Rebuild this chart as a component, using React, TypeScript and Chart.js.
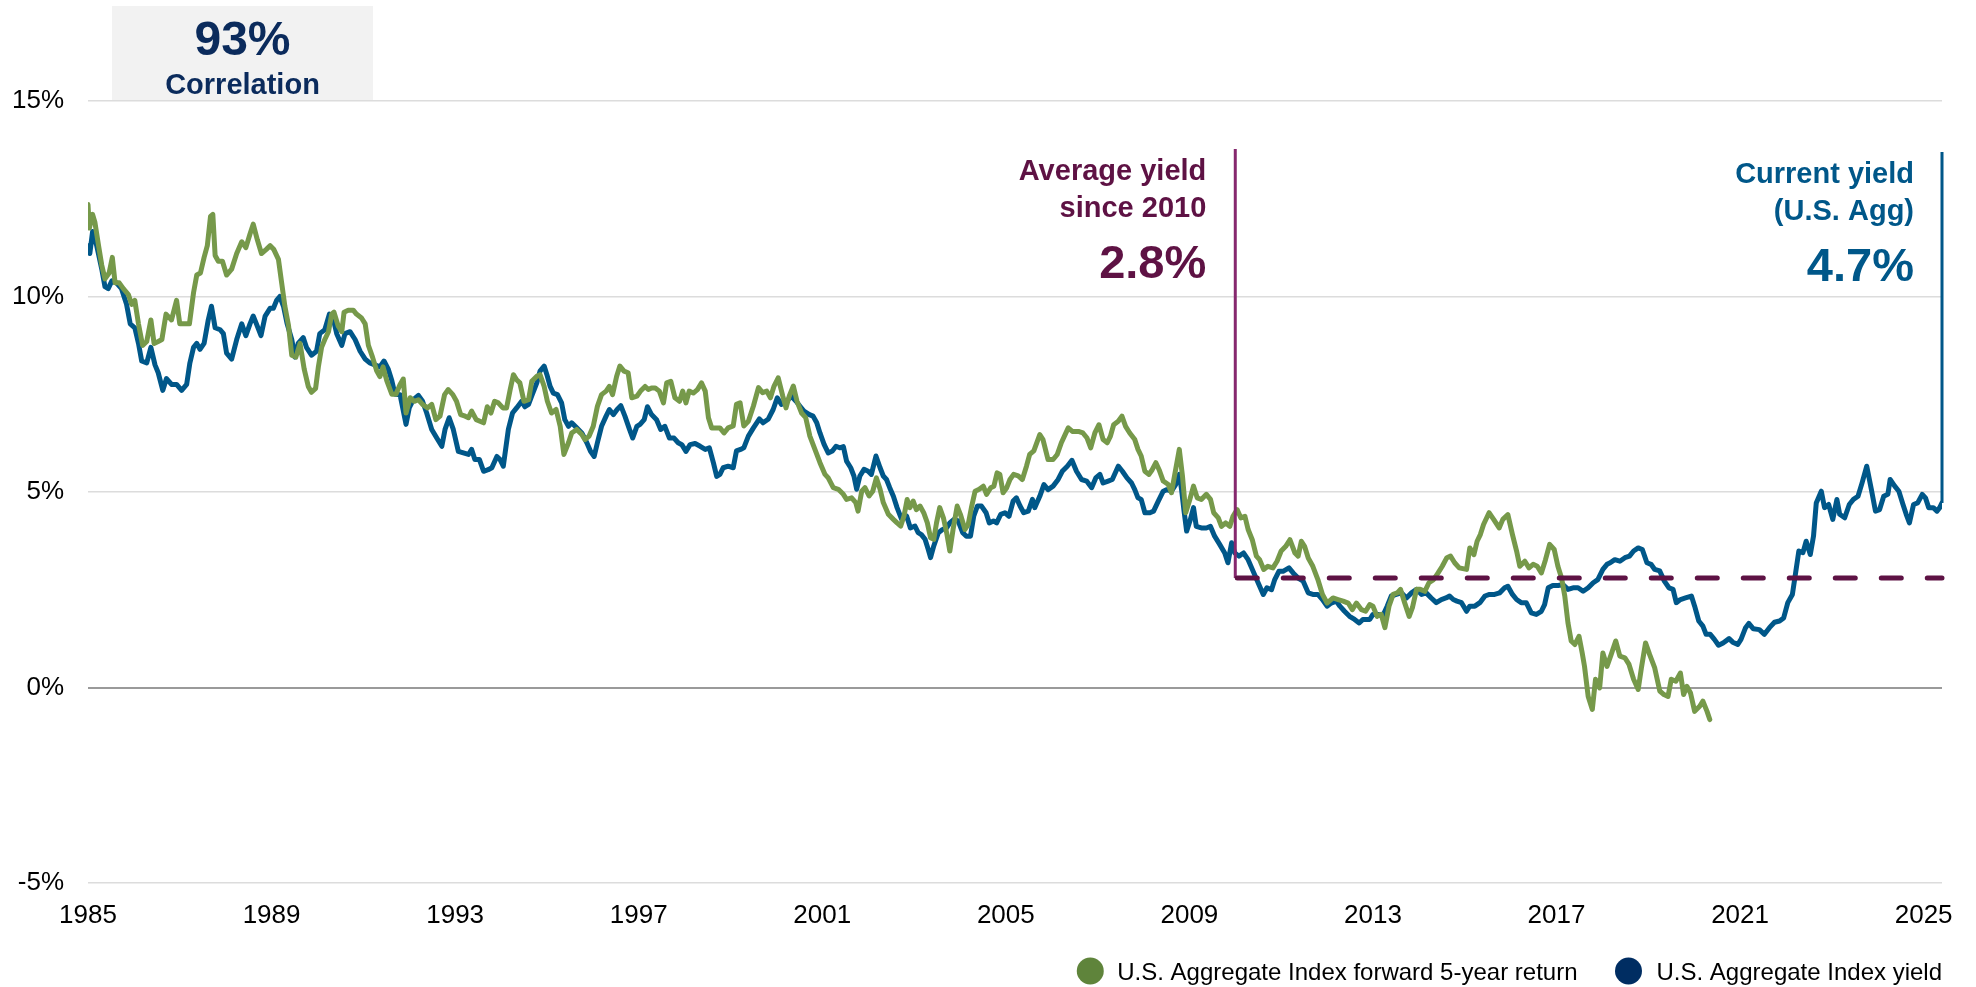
import React, { useEffect, useRef } from "react";
import { Chart, registerables } from "chart.js";

Chart.register(...registerables);

const FONT = '"Liberation Sans", Arial, Helvetica, sans-serif';

// ---- axis ticks ----
const xTickYears = [1985, 1989, 1993, 1997, 2001, 2005, 2009, 2013, 2017, 2021, 2025];
const yTickValues = [-5, 0, 5, 10, 15];

// ---- series names ----
const seriesNames = ["U.S. Aggregate Index forward 5-year return", "U.S. Aggregate Index yield"];

// ---- annotation values ----
const correlationValue = "93%";
const correlationCaption = "Correlation";
const averageYieldStartYear = 2010;
const averageYieldSince2010 = 2.8;
const averageYieldLabel = ["Average yield", "since 2010", "2.8%"];
const currentYieldLabel = ["Current yield", "(U.S. Agg)", "4.7%"];

// ---- U.S. Aggregate Index yield, % : [year, value] ----
const yieldSeries: [number, number][] = [
  [1985.00, 11.3], [1985.04, 11.1], [1985.10, 11.66], [1985.19, 11.3], [1985.30, 10.7], [1985.37, 10.25],
  [1985.44, 10.2], [1985.52, 10.4], [1985.62, 10.35], [1985.73, 10.2], [1985.84, 9.8], [1985.92, 9.3],
  [1986.02, 9.2], [1986.10, 8.8], [1986.17, 8.35], [1986.28, 8.3], [1986.37, 8.7], [1986.46, 8.25],
  [1986.53, 8.05], [1986.63, 7.6], [1986.71, 7.9], [1986.82, 7.75], [1986.93, 7.75], [1987.04, 7.6],
  [1987.15, 7.75], [1987.22, 8.3], [1987.30, 8.7], [1987.37, 8.8], [1987.44, 8.65], [1987.53, 8.8],
  [1987.62, 9.4], [1987.69, 9.75], [1987.77, 9.2], [1987.88, 9.15], [1987.95, 9.05], [1988.02, 8.55],
  [1988.13, 8.4], [1988.24, 8.9], [1988.35, 9.3], [1988.44, 9.0], [1988.53, 9.3], [1988.60, 9.5],
  [1988.67, 9.3], [1988.77, 9.0], [1988.86, 9.5], [1988.97, 9.7], [1989.04, 9.7], [1989.11, 9.9],
  [1989.18, 10.0], [1989.26, 9.75], [1989.34, 9.3], [1989.44, 8.9], [1989.51, 8.45], [1989.58, 8.8],
  [1989.69, 8.95], [1989.76, 8.7], [1989.87, 8.5], [1989.98, 8.6], [1990.05, 9.05], [1990.16, 9.15],
  [1990.26, 9.55], [1990.33, 9.5], [1990.42, 9.05], [1990.53, 8.75], [1990.60, 9.05], [1990.71, 9.1],
  [1990.82, 8.9], [1990.93, 8.6], [1991.04, 8.4], [1991.14, 8.3], [1991.25, 8.25], [1991.36, 8.2],
  [1991.45, 8.35], [1991.54, 8.15], [1991.62, 7.85], [1991.69, 7.5],
  [1991.80, 7.49], [1991.93, 6.73], [1992.00, 7.15], [1992.09, 7.36], [1992.20, 7.47], [1992.29, 7.32],
  [1992.38, 7.02], [1992.49, 6.6], [1992.60, 6.38], [1992.71, 6.17], [1992.78, 6.6], [1992.87, 6.9],
  [1992.96, 6.6], [1993.07, 6.04], [1993.18, 6.0], [1993.29, 5.96], [1993.36, 6.09], [1993.43, 5.83],
  [1993.53, 5.83], [1993.62, 5.53], [1993.72, 5.57], [1993.80, 5.62], [1993.91, 5.91], [1993.98, 5.83],
  [1994.05, 5.66], [1994.16, 6.6], [1994.25, 7.02], [1994.34, 7.15], [1994.45, 7.32], [1994.52, 7.18],
  [1994.60, 7.24], [1994.68, 7.49], [1994.78, 7.79], [1994.85, 8.09], [1994.94, 8.22], [1995.00, 8.0],
  [1995.07, 7.7], [1995.14, 7.53], [1995.23, 7.49], [1995.32, 7.28], [1995.39, 6.85], [1995.47, 6.68],
  [1995.54, 6.77], [1995.65, 6.64], [1995.76, 6.51], [1995.87, 6.26], [1995.95, 6.04], [1996.03, 5.91],
  [1996.10, 6.26], [1996.19, 6.68], [1996.29, 6.94], [1996.36, 7.11], [1996.45, 6.98], [1996.53, 7.11],
  [1996.61, 7.21], [1996.70, 6.94], [1996.80, 6.6], [1996.87, 6.38], [1996.96, 6.68], [1997.03, 6.73],
  [1997.12, 6.85], [1997.19, 7.18], [1997.28, 6.98], [1997.39, 6.85], [1997.48, 6.6], [1997.57, 6.68],
  [1997.67, 6.38], [1997.77, 6.38], [1997.86, 6.26], [1997.94, 6.21], [1998.03, 6.04], [1998.12, 6.21],
  [1998.23, 6.24], [1998.34, 6.17], [1998.45, 6.09], [1998.54, 6.13], [1998.63, 5.74], [1998.70, 5.4],
  [1998.77, 5.45], [1998.84, 5.62], [1998.95, 5.66], [1999.06, 5.62], [1999.13, 6.05], [1999.22, 6.09],
  [1999.29, 6.13], [1999.39, 6.43], [1999.50, 6.64], [1999.63, 6.87], [1999.71, 6.77], [1999.82, 6.86],
  [1999.93, 7.11], [2000.02, 7.41], [2000.11, 7.24], [2000.22, 7.32], [2000.33, 7.45], [2000.43, 7.32],
  [2000.51, 7.2], [2000.60, 7.07], [2000.72, 6.98], [2000.80, 6.94], [2000.88, 6.77], [2000.95, 6.51],
  [2001.04, 6.22], [2001.13, 6.0], [2001.22, 6.05], [2001.30, 6.17], [2001.38, 6.13], [2001.46, 6.16],
  [2001.53, 5.79], [2001.62, 5.62], [2001.69, 5.41], [2001.75, 5.07], [2001.82, 5.41], [2001.91, 5.58],
  [2002.00, 5.53], [2002.07, 5.45], [2002.17, 5.92], [2002.26, 5.62], [2002.33, 5.41], [2002.40, 5.32],
  [2002.47, 5.11], [2002.55, 4.89], [2002.63, 4.6], [2002.73, 4.3], [2002.84, 4.38], [2002.92, 4.08],
  [2003.02, 4.13], [2003.09, 3.96], [2003.16, 3.91], [2003.24, 3.79], [2003.31, 3.53], [2003.36, 3.32],
  [2003.43, 3.62], [2003.53, 3.96], [2003.62, 4.04], [2003.71, 4.08], [2003.78, 4.21], [2003.87, 4.3],
  [2003.96, 4.26], [2004.06, 3.96], [2004.14, 3.87], [2004.23, 3.87], [2004.30, 4.38], [2004.38, 4.64],
  [2004.47, 4.64], [2004.57, 4.47], [2004.64, 4.21], [2004.73, 4.26], [2004.80, 4.21], [2004.89, 4.43],
  [2004.98, 4.47], [2005.07, 4.38], [2005.16, 4.77], [2005.23, 4.85], [2005.31, 4.64], [2005.39, 4.47],
  [2005.49, 4.51], [2005.58, 4.81], [2005.63, 4.6],
  [2005.74, 4.89], [2005.83, 5.19], [2005.92, 5.06], [2006.03, 5.15], [2006.14, 5.32], [2006.23, 5.53],
  [2006.34, 5.66], [2006.44, 5.81], [2006.54, 5.53], [2006.65, 5.32], [2006.76, 5.28], [2006.87, 5.11],
  [2006.96, 5.36], [2007.05, 5.45], [2007.12, 5.23], [2007.23, 5.28], [2007.32, 5.32], [2007.45, 5.66],
  [2007.54, 5.53], [2007.64, 5.36], [2007.74, 5.23], [2007.81, 5.06], [2007.88, 4.85], [2007.95, 4.81],
  [2008.03, 4.47], [2008.14, 4.47], [2008.22, 4.51], [2008.32, 4.76], [2008.43, 5.02], [2008.51, 5.06],
  [2008.61, 5.02], [2008.70, 5.19], [2008.78, 5.45], [2008.83, 5.06], [2008.88, 4.55], [2008.94, 4.0],
  [2009.01, 4.25], [2009.09, 4.6], [2009.15, 4.12], [2009.26, 4.08], [2009.37, 4.08], [2009.46, 4.12],
  [2009.55, 3.87], [2009.66, 3.66], [2009.77, 3.44], [2009.84, 3.19], [2009.92, 3.7], [2009.99, 3.44],
  [2010.08, 3.36], [2010.18, 3.44], [2010.28, 3.27], [2010.39, 2.97], [2010.50, 2.67], [2010.61, 2.38],
  [2010.69, 2.55], [2010.79, 2.5], [2010.86, 2.76], [2010.95, 2.97], [2011.04, 2.97], [2011.17, 3.06],
  [2011.26, 2.93], [2011.37, 2.8], [2011.48, 2.72], [2011.59, 2.42], [2011.69, 2.38], [2011.80, 2.38],
  [2011.90, 2.25], [2012.00, 2.08], [2012.09, 2.16], [2012.20, 2.21], [2012.28, 2.08], [2012.38, 1.95],
  [2012.49, 1.82], [2012.60, 1.74], [2012.70, 1.65], [2012.78, 1.74], [2012.89, 1.74],
  [2012.93, 1.74], [2013.00, 1.87], [2013.11, 1.87], [2013.21, 1.82], [2013.31, 2.08], [2013.40, 2.34],
  [2013.51, 2.38], [2013.62, 2.42], [2013.73, 2.29], [2013.84, 2.42], [2013.95, 2.51], [2014.06, 2.38],
  [2014.16, 2.42], [2014.27, 2.29], [2014.38, 2.17], [2014.49, 2.25], [2014.59, 2.29], [2014.67, 2.34],
  [2014.75, 2.25], [2014.83, 2.21], [2014.93, 2.17], [2015.04, 1.95], [2015.11, 2.08], [2015.22, 2.08],
  [2015.33, 2.17], [2015.44, 2.34], [2015.54, 2.38], [2015.65, 2.38], [2015.76, 2.42], [2015.87, 2.55],
  [2015.94, 2.59], [2016.04, 2.38], [2016.13, 2.25], [2016.23, 2.17], [2016.34, 2.17], [2016.45, 1.91],
  [2016.56, 1.87], [2016.67, 1.95], [2016.74, 2.12], [2016.82, 2.55], [2016.92, 2.61], [2017.03, 2.61],
  [2017.14, 2.63], [2017.25, 2.51], [2017.36, 2.55], [2017.47, 2.55], [2017.58, 2.46], [2017.69, 2.55],
  [2017.80, 2.68], [2017.90, 2.76], [2018.01, 3.02], [2018.10, 3.15], [2018.17, 3.19], [2018.27, 3.27],
  [2018.38, 3.23], [2018.49, 3.32], [2018.59, 3.36], [2018.68, 3.49], [2018.78, 3.57], [2018.87, 3.53],
  [2018.97, 3.19], [2019.06, 3.15], [2019.14, 3.02], [2019.25, 2.98], [2019.35, 2.72], [2019.45, 2.55],
  [2019.54, 2.51], [2019.61, 2.17], [2019.70, 2.25], [2019.81, 2.29], [2019.94, 2.34], [2020.01, 2.08],
  [2020.10, 1.7], [2020.19, 1.57], [2020.26, 1.36], [2020.35, 1.36], [2020.44, 1.23], [2020.53, 1.08],
  [2020.63, 1.14], [2020.76, 1.25], [2020.84, 1.16], [2020.95, 1.1], [2021.02, 1.23], [2021.12, 1.53],
  [2021.19, 1.64], [2021.29, 1.5], [2021.42, 1.48], [2021.53, 1.36], [2021.64, 1.53], [2021.75, 1.67],
  [2021.86, 1.7], [2021.95, 1.78], [2022.04, 2.17], [2022.14, 2.38], [2022.21, 2.93], [2022.28, 3.49],
  [2022.37, 3.45], [2022.44, 3.74], [2022.53, 3.4], [2022.60, 3.87], [2022.66, 4.72], [2022.77, 5.02],
  [2022.84, 4.6], [2022.93, 4.68], [2023.02, 4.3], [2023.11, 4.81], [2023.17, 4.43], [2023.28, 4.34],
  [2023.38, 4.68], [2023.47, 4.81], [2023.57, 4.89], [2023.66, 5.24], [2023.76, 5.66], [2023.86, 5.07],
  [2023.95, 4.51], [2024.04, 4.55], [2024.13, 4.89], [2024.22, 4.94], [2024.27, 5.32], [2024.37, 5.15],
  [2024.46, 5.02], [2024.55, 4.68], [2024.62, 4.43], [2024.69, 4.21], [2024.78, 4.68], [2024.87, 4.72],
  [2024.97, 4.94], [2025.04, 4.85], [2025.11, 4.6], [2025.21, 4.6], [2025.29, 4.51], [2025.35, 4.6],
  [2025.40, 4.72],
];

// ---- U.S. Aggregate Index forward 5-year return, % : [year, value] ----
const returnSeries: [number, number][] = [
  [1985.00, 12.35], [1985.03, 11.75], [1985.10, 12.1], [1985.15, 11.9], [1985.23, 11.3], [1985.30, 10.8],
  [1985.37, 10.45], [1985.46, 10.6], [1985.53, 11.0], [1985.59, 10.35], [1985.68, 10.35], [1985.77, 10.2],
  [1985.88, 10.05], [1985.95, 9.8], [1986.02, 9.9], [1986.10, 9.3], [1986.19, 8.75], [1986.28, 8.85],
  [1986.37, 9.4], [1986.44, 8.8], [1986.53, 8.85], [1986.61, 8.9], [1986.70, 9.55], [1986.82, 9.4],
  [1986.93, 9.9], [1987.00, 9.3], [1987.11, 9.3], [1987.21, 9.3], [1987.30, 10.1], [1987.37, 10.55],
  [1987.45, 10.6], [1987.53, 11.0], [1987.60, 11.3], [1987.67, 12.05], [1987.72, 12.1], [1987.77, 11.05],
  [1987.84, 10.9], [1987.93, 10.9], [1988.02, 10.55], [1988.13, 10.7], [1988.24, 11.1], [1988.35, 11.4],
  [1988.44, 11.25], [1988.53, 11.6], [1988.60, 11.85], [1988.69, 11.45], [1988.78, 11.1], [1988.88, 11.2],
  [1988.97, 11.3], [1989.05, 11.2], [1989.15, 10.95], [1989.22, 10.35], [1989.29, 9.75], [1989.37, 9.25],
  [1989.44, 8.5], [1989.53, 8.45], [1989.62, 8.8], [1989.71, 8.15], [1989.80, 7.7], [1989.87, 7.55],
  [1989.96, 7.65], [1990.02, 8.2], [1990.09, 8.7], [1990.16, 8.9], [1990.24, 9.1], [1990.31, 9.55],
  [1990.36, 9.6], [1990.45, 9.25], [1990.53, 9.1], [1990.58, 9.6], [1990.67, 9.65], [1990.78, 9.65],
  [1990.85, 9.55], [1990.96, 9.45], [1991.04, 9.3], [1991.11, 8.75], [1991.20, 8.45], [1991.29, 8.1],
  [1991.36, 7.95], [1991.43, 8.2], [1991.51, 7.85], [1991.62, 7.5], [1991.71, 7.5],
  [1991.80, 7.75], [1991.87, 7.89], [1991.93, 7.02], [1992.02, 7.41], [1992.11, 7.32], [1992.20, 7.36],
  [1992.29, 7.24], [1992.40, 7.15], [1992.49, 7.24], [1992.58, 6.85], [1992.67, 6.94], [1992.77, 7.49],
  [1992.85, 7.62], [1992.95, 7.49], [1993.03, 7.32], [1993.12, 6.98], [1993.22, 6.94], [1993.29, 6.9],
  [1993.36, 7.07], [1993.46, 6.85], [1993.54, 6.81], [1993.62, 6.77], [1993.70, 7.18], [1993.78, 7.02],
  [1993.86, 7.32], [1993.94, 7.28], [1994.04, 7.15], [1994.12, 7.15], [1994.20, 7.62], [1994.27, 8.0],
  [1994.34, 7.87], [1994.41, 7.79], [1994.50, 7.32], [1994.60, 7.36], [1994.67, 7.83], [1994.78, 7.96],
  [1994.85, 8.0], [1994.94, 7.7], [1995.01, 7.32], [1995.10, 7.02], [1995.20, 7.11], [1995.29, 6.68],
  [1995.37, 5.96], [1995.47, 6.26], [1995.54, 6.51], [1995.65, 6.6], [1995.76, 6.47], [1995.83, 6.34],
  [1995.92, 6.43], [1996.01, 6.68], [1996.10, 7.19], [1996.19, 7.49], [1996.29, 7.58], [1996.36, 7.7],
  [1996.43, 7.49], [1996.52, 7.96], [1996.59, 8.22], [1996.68, 8.09], [1996.77, 8.05], [1996.85, 7.41],
  [1996.96, 7.45], [1997.04, 7.58], [1997.14, 7.7], [1997.21, 7.62], [1997.28, 7.66], [1997.36, 7.66],
  [1997.45, 7.58], [1997.54, 7.28], [1997.61, 7.79], [1997.70, 7.83], [1997.79, 7.41], [1997.89, 7.32],
  [1997.96, 7.58], [1998.03, 7.28], [1998.10, 7.58], [1998.19, 7.53], [1998.28, 7.62], [1998.37, 7.79],
  [1998.45, 7.58], [1998.52, 6.9], [1998.59, 6.64], [1998.70, 6.64],
  [1998.77, 6.64], [1998.86, 6.51], [1998.95, 6.64], [1999.06, 6.69], [1999.13, 7.24], [1999.21, 7.28],
  [1999.29, 6.69], [1999.39, 6.81], [1999.50, 7.2], [1999.61, 7.67], [1999.70, 7.54], [1999.79, 7.58],
  [1999.87, 7.41], [1999.95, 7.71], [2000.04, 7.92], [2000.14, 7.45], [2000.21, 7.15], [2000.28, 7.45],
  [2000.37, 7.71], [2000.45, 7.32], [2000.55, 7.02], [2000.64, 6.9], [2000.73, 6.43], [2000.84, 6.09],
  [2000.95, 5.75], [2001.06, 5.45], [2001.13, 5.36], [2001.24, 5.11], [2001.35, 5.07], [2001.46, 4.94],
  [2001.53, 4.81], [2001.64, 4.85], [2001.73, 4.73], [2001.78, 4.51], [2001.86, 5.02], [2001.93, 5.11],
  [2002.02, 4.9], [2002.10, 5.02], [2002.18, 5.36], [2002.26, 5.07], [2002.33, 4.73], [2002.44, 4.43],
  [2002.55, 4.3], [2002.63, 4.21], [2002.71, 4.13], [2002.78, 4.38], [2002.85, 4.81], [2002.91, 4.6],
  [2002.98, 4.77], [2003.05, 4.55], [2003.13, 4.64], [2003.21, 4.47], [2003.29, 4.21], [2003.36, 3.83],
  [2003.43, 3.79], [2003.49, 4.21], [2003.56, 4.6], [2003.64, 4.34], [2003.71, 3.96], [2003.78, 3.49],
  [2003.85, 4.04], [2003.94, 4.64], [2004.01, 4.43], [2004.11, 4.04], [2004.18, 4.17], [2004.25, 4.6],
  [2004.33, 5.02], [2004.42, 5.07], [2004.51, 5.15], [2004.58, 4.94], [2004.67, 5.11], [2004.74, 5.15],
  [2004.81, 5.49], [2004.87, 5.45], [2004.94, 4.98], [2005.02, 5.11], [2005.09, 5.32], [2005.17, 5.45],
  [2005.27, 5.41], [2005.36, 5.32], [2005.45, 5.66], [2005.52, 5.96], [2005.61, 6.05],
  [2005.74, 6.47], [2005.81, 6.34], [2005.92, 5.83], [2006.03, 5.83], [2006.12, 5.96], [2006.21, 6.26],
  [2006.36, 6.64], [2006.45, 6.55], [2006.58, 6.55], [2006.68, 6.51], [2006.77, 6.38], [2006.85, 6.13],
  [2006.94, 6.51], [2007.03, 6.72], [2007.12, 6.34], [2007.21, 6.26], [2007.28, 6.43], [2007.35, 6.72],
  [2007.45, 6.81], [2007.53, 6.94], [2007.61, 6.68], [2007.70, 6.51], [2007.81, 6.34], [2007.88, 6.09],
  [2007.95, 5.92], [2008.03, 5.53], [2008.12, 5.45], [2008.19, 5.57], [2008.27, 5.75], [2008.34, 5.57],
  [2008.43, 5.28], [2008.54, 5.19], [2008.61, 4.98], [2008.70, 5.57], [2008.78, 6.09], [2008.85, 5.4],
  [2008.92, 4.47], [2009.01, 4.81], [2009.09, 5.15], [2009.17, 4.85], [2009.26, 4.81], [2009.37, 4.94],
  [2009.46, 4.81], [2009.53, 4.47], [2009.63, 4.34], [2009.70, 4.12], [2009.79, 4.21], [2009.88, 4.12],
  [2009.95, 4.38], [2010.04, 4.55], [2010.12, 4.34], [2010.21, 4.38], [2010.28, 4.04], [2010.37, 3.78],
  [2010.46, 3.36], [2010.53, 3.27], [2010.62, 3.02], [2010.71, 3.1], [2010.82, 3.06], [2010.91, 3.23],
  [2011.00, 3.49], [2011.10, 3.61], [2011.19, 3.78], [2011.30, 3.44], [2011.37, 3.36], [2011.44, 3.74],
  [2011.51, 3.61], [2011.59, 3.31], [2011.69, 3.1], [2011.80, 2.76], [2011.90, 2.38], [2012.00, 2.16],
  [2012.13, 2.29], [2012.24, 2.25], [2012.35, 2.21], [2012.46, 2.16], [2012.55, 1.99], [2012.64, 2.16],
  [2012.75, 1.99], [2012.84, 1.95],
  [2012.93, 2.12], [2013.00, 2.08], [2013.09, 1.82], [2013.18, 1.87], [2013.26, 1.53], [2013.35, 2.08],
  [2013.44, 2.38], [2013.53, 2.42], [2013.60, 2.51], [2013.69, 2.17], [2013.79, 1.82], [2013.86, 2.04],
  [2013.95, 2.51], [2014.03, 2.51], [2014.13, 2.46], [2014.22, 2.68], [2014.32, 2.76], [2014.42, 2.93],
  [2014.51, 3.1], [2014.61, 3.32], [2014.69, 3.36], [2014.78, 3.19], [2014.88, 3.06], [2015.04, 3.02],
  [2015.11, 3.57], [2015.20, 3.4], [2015.27, 3.74], [2015.34, 3.91], [2015.41, 4.17], [2015.53, 4.47],
  [2015.63, 4.3], [2015.75, 4.08], [2015.83, 4.3], [2015.94, 4.42], [2016.04, 3.91], [2016.13, 3.49],
  [2016.20, 3.1], [2016.31, 3.23], [2016.40, 3.06], [2016.49, 3.15], [2016.58, 3.1], [2016.67, 2.93],
  [2016.76, 3.27], [2016.85, 3.66], [2016.95, 3.53], [2017.03, 3.1], [2017.11, 2.8], [2017.18, 2.34],
  [2017.25, 1.65], [2017.32, 1.19], [2017.40, 1.1], [2017.49, 1.31], [2017.56, 0.88], [2017.61, 0.54],
  [2017.69, -0.23], [2017.78, -0.56], [2017.85, 0.21], [2017.94, -0.01], [2018.01, 0.88], [2018.10, 0.54],
  [2018.19, 0.84], [2018.29, 1.19], [2018.38, 0.8], [2018.49, 0.76], [2018.58, 0.59], [2018.68, 0.21],
  [2018.78, -0.05], [2018.85, 0.5], [2018.94, 1.14], [2019.03, 0.84], [2019.14, 0.5], [2019.25, -0.09],
  [2019.34, -0.18], [2019.43, -0.23], [2019.50, 0.21], [2019.60, 0.16], [2019.70, 0.37], [2019.77, -0.18],
  [2019.84, 0.03], [2019.92, -0.14], [2020.01, -0.61], [2020.12, -0.48], [2020.19, -0.35], [2020.28, -0.61],
  [2020.34, -0.82],
];

// ---- colours ----
const GREEN = "#76994a";
const BLUE = "#005789";
const LEGEND_GREEN = "#5f843b";
const LEGEND_NAVY = "#002d62";
const NAVY_TEXT = "#0b2b5c";
const PLUM = "#5e1244";
const PURPLE_LINE = "#86286e";

const annotationPlugin = {
  id: "yieldAnnotations",
  beforeDraw(chart: any) {
    const { ctx, chartArea } = chart;
    ctx.save();
    // correlation box
    ctx.fillStyle = "#f2f2f2";
    ctx.fillRect(112, 6, 261, chartArea.top - 6);
    ctx.fillStyle = NAVY_TEXT;
    ctx.textAlign = "center";
    ctx.textBaseline = "alphabetic";
    ctx.font = `bold 48px ${FONT}`;
    ctx.fillText(correlationValue, 242.5, 55);
    ctx.font = `bold 29px ${FONT}`;
    ctx.fillText(correlationCaption, 242.5, 94);
    ctx.restore();
  },
  afterDatasetsDraw(chart: any) {
    const { ctx, chartArea, scales } = chart;
    const xs = scales.x;
    const ys = scales.y;
    ctx.save();

    // average yield since 2010
    const xAvg = xs.getPixelForValue(averageYieldStartYear);
    const yAvg = ys.getPixelForValue(averageYieldSince2010);
    const avgTop = chartArea.top + 48;
    ctx.strokeStyle = PURPLE_LINE;
    ctx.lineWidth = 3;
    ctx.beginPath();
    ctx.moveTo(xAvg, avgTop);
    ctx.lineTo(xAvg, yAvg);
    ctx.stroke();

    ctx.strokeStyle = PLUM;
    ctx.lineWidth = 5;
    ctx.lineCap = "round";
    ctx.setLineDash([20, 26]);
    ctx.beginPath();
    ctx.moveTo(xAvg + 2, yAvg);
    ctx.lineTo(chartArea.right, yAvg);
    ctx.stroke();
    ctx.setLineDash([]);
    ctx.lineCap = "butt";

    // current yield
    const last = yieldSeries[yieldSeries.length - 1];
    const xCur = xs.getPixelForValue(last[0]);
    const yCur = ys.getPixelForValue(last[1]);
    const curTop = chartArea.top + 51;
    ctx.strokeStyle = BLUE;
    ctx.lineWidth = 3;
    ctx.beginPath();
    ctx.moveTo(xCur, curTop);
    ctx.lineTo(xCur, yCur);
    ctx.stroke();

    // texts
    ctx.textAlign = "right";
    ctx.textBaseline = "alphabetic";
    const drawBlock = (lines: string[], xRight: number, top: number, color: string) => {
      ctx.fillStyle = color;
      ctx.font = `bold 29px ${FONT}`;
      ctx.fillText(lines[0], xRight, top + 31);
      ctx.fillText(lines[1], xRight, top + 68);
      ctx.font = `bold 47px ${FONT}`;
      ctx.fillText(lines[2], xRight, top + 129);
    };
    drawBlock(averageYieldLabel, xAvg - 29, avgTop, PLUM);
    drawBlock(currentYieldLabel, xCur - 28, curTop, BLUE);
    ctx.restore();
  },
  afterDraw(chart: any) {
    const { ctx, chartArea } = chart;
    ctx.save();
    ctx.font = `24px ${FONT}`;
    ctx.textAlign = "left";
    ctx.textBaseline = "alphabetic";
    const yMid = 971;
    const w2 = ctx.measureText(seriesNames[1]).width;
    const w1 = ctx.measureText(seriesNames[0]).width;
    const t2 = chartArea.right - w2;
    const c2 = t2 - 28;
    const t1end = c2 - 51;
    const t1 = t1end - w1;
    const c1 = t1 - 27;
    const items: [number, number, string, string][] = [
      [c1, t1, seriesNames[0], LEGEND_GREEN],
      [c2, t2, seriesNames[1], LEGEND_NAVY],
    ];
    for (const [cx, tx, label, color] of items) {
      ctx.fillStyle = color;
      ctx.beginPath();
      ctx.arc(cx, yMid, 13.5, 0, Math.PI * 2);
      ctx.fill();
      ctx.fillStyle = "#000";
      ctx.fillText(label, tx, yMid + 8.5);
    }
    ctx.restore();
  },
};

export default function App() {
  const ref = useRef<HTMLCanvasElement>(null);

  useEffect(() => {
    document.body.style.margin = "0";
    const canvas = ref.current;
    if (!canvas) return;
    const lastYear = yieldSeries[yieldSeries.length - 1][0];
    const chart = new Chart(canvas, {
      type: "line",
      data: {
        datasets: [
          {
            label: seriesNames[0],
            data: returnSeries.map(([x, y]) => ({ x, y })),
            borderColor: GREEN,
            backgroundColor: GREEN,
            borderWidth: 5,
            pointRadius: 0,
            tension: 0,
            fill: false,
            borderJoinStyle: "round",
            borderCapStyle: "round",
          },
          {
            label: seriesNames[1],
            data: yieldSeries.map(([x, y]) => ({ x, y })),
            borderColor: BLUE,
            backgroundColor: BLUE,
            borderWidth: 5,
            pointRadius: 0,
            tension: 0,
            fill: false,
            borderJoinStyle: "round",
            borderCapStyle: "round",
          },
        ],
      },
      options: {
        responsive: false,
        maintainAspectRatio: false,
        animation: false,
        devicePixelRatio: 1,
        layout: { padding: { top: 101, right: 34, left: 0, bottom: 0 } },
        plugins: {
          legend: { display: false },
          tooltip: { enabled: false },
          title: { display: false },
        },
        scales: {
          x: {
            type: "linear",
            min: 1985,
            max: lastYear,
            grid: { display: false },
            border: { display: false },
            afterBuildTicks: (s: any) => {
              s.ticks = xTickYears.map((v) => ({ value: v }));
            },
            afterFit: (s: any) => {
              s.height = 104;
            },
            ticks: {
              autoSkip: false,
              maxRotation: 0,
              minRotation: 0,
              padding: 9,
              color: "#000",
              font: { size: 26, family: FONT },
              callback: (v: any) => String(v),
            },
          },
          y: {
            type: "linear",
            min: -5,
            max: 15,
            afterBuildTicks: (s: any) => {
              s.ticks = yTickValues.map((v) => ({ value: v }));
            },
            afterFit: (s: any) => {
              s.width = 88;
            },
            grid: {
              drawTicks: false,
              color: (c: any) => (c.tick && c.tick.value === 0 ? "#9a9a9a" : "#dcdcdc"),
              lineWidth: (c: any) => (c.tick && c.tick.value === 0 ? 2 : 1.5),
            },
            border: { display: false },
            ticks: {
              padding: 24,
              color: "#000",
              font: { size: 26, family: FONT },
              callback: (v: any) => `${v}%`,
            },
          },
        },
      },
      plugins: [annotationPlugin],
    });
    return () => chart.destroy();
  }, []);

  return (
    <canvas
      ref={ref}
      width={1976}
      height={987}
      style={{ display: "block", width: "1976px", height: "987px" }}
    />
  );
}
